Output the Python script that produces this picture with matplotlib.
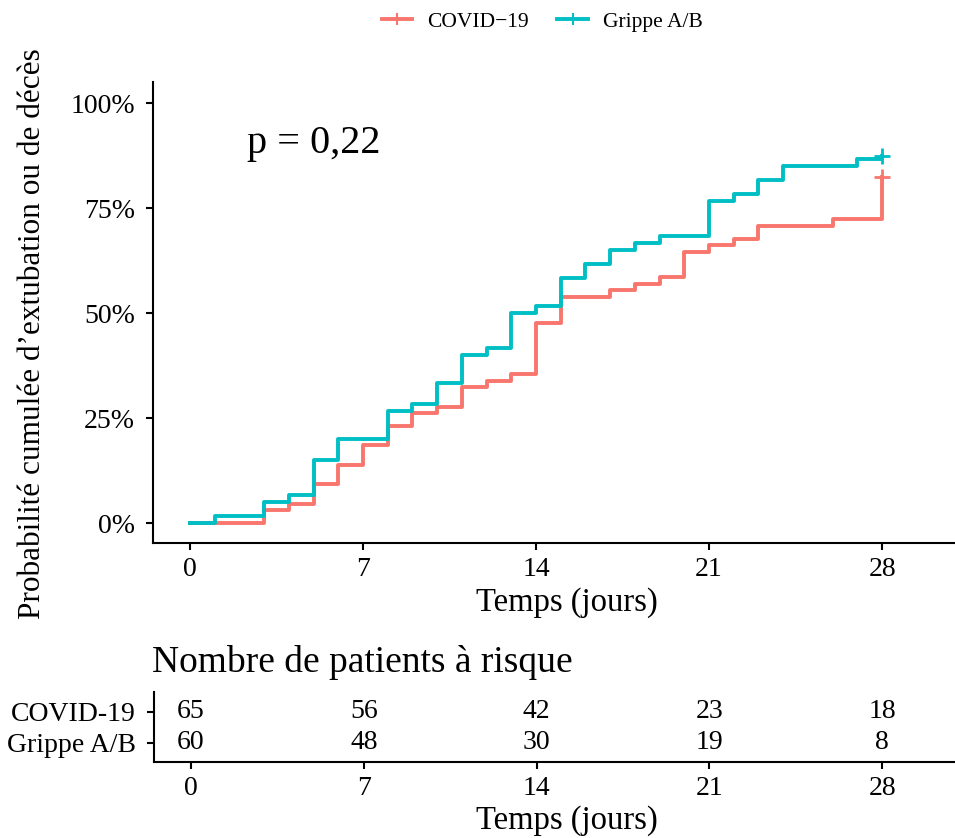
import matplotlib
matplotlib.use("Agg")
import matplotlib.pyplot as plt
from matplotlib.lines import Line2D

plt.rcParams['font.family'] = ['Liberation Serif', 'DejaVu Serif']

# ---- data ----
covid_t = [0, 3, 4, 5, 6, 7, 8, 9, 10, 11, 12, 13, 14, 15, 17, 18, 19, 20, 21, 22, 23, 26, 28]
covid_p = [0, 3.1, 4.6, 9.2, 13.8, 18.5, 23.1, 26.2, 27.7, 32.3, 33.8, 35.4, 47.7, 53.8,
           55.4, 56.9, 58.5, 64.6, 66.2, 67.7, 70.8, 72.3, 82.5]
grippe_t = [0, 1, 3, 4, 5, 6, 8, 9, 10, 11, 12, 13, 14, 15, 16, 17, 18, 19, 21, 22, 23, 24, 27, 28]
grippe_p = [0, 1.7, 5.0, 6.7, 15.0, 20.0, 26.7, 28.3, 33.3, 40.0, 41.7, 50.0, 51.7, 58.3,
            61.7, 65.0, 66.7, 68.3, 76.7, 78.3, 81.7, 85.0, 86.7, 87.5]
groups = ["COVID−19", "Grippe A/B"]
table_groups = ["COVID-19", "Grippe A/B"]
risk_times = [0, 7, 14, 21, 28]
risk_covid = [65, 56, 42, 23, 18]
risk_grippe = [60, 48, 30, 19, 8]
y_ticks = [0, 25, 50, 75, 100]
y_ticklabels = ["0%", "25%", "50%", "75%", "100%"]
x_ticks = [0, 7, 14, 21, 28]

RED = "#F8766D"
TEAL = "#00BFC4"

W, H = 955, 838
fig = plt.figure(figsize=(W / 100, H / 100), dpi=100)

def frac(l, t, r, b):
    return [l / W, 1 - b / H, (r - l) / W, (b - t) / H]

TICK_FS = 20

# ---- main plot ----
ax = fig.add_axes(frac(153, 82, 955, 543))
ax.step(covid_t, covid_p, where='post', color=RED, lw=2.8)
ax.step(grippe_t, grippe_p, where='post', color=TEAL, lw=2.8)
ax.plot([covid_t[-1]], [covid_p[-1]], marker='+', ms=12, mew=2, color=RED, ls='none')
ax.plot([grippe_t[-1]], [grippe_p[-1]], marker='+', ms=12, mew=2, color=TEAL, ls='none')

ax.set_xlim(-1.497, 30.95)
ax.set_ylim(-4.76, 105.0)
ax.set_xticks(x_ticks)
ax.set_yticks(y_ticks)
ax.set_yticklabels(y_ticklabels)
for s in ['top', 'right']:
    ax.spines[s].set_visible(False)
for s in ['left', 'bottom']:
    ax.spines[s].set_linewidth(1.5)
    ax.spines[s].set_color('black')
ax.tick_params(axis='both', direction='out', length=5, width=1.5, labelsize=TICK_FS, colors='black')
ax.tick_params(axis='y', pad=8)
ax.tick_params(axis='x', pad=5)
ax.set_xlabel("Temps (jours)", fontsize=23.5)
ax.xaxis.set_label_coords((567 - 153) / (955 - 153), -0.095)
ax.set_ylabel("Probabilité cumulée d’extubation ou de décès", fontsize=22.5)
ax.yaxis.set_label_coords(-0.132, 0.455)
fig.text(247 / W, 1 - 143 / H, "p = 0,22", fontsize=29, va='center', ha='left')

handles = [Line2D([], [], color=RED, lw=2.8, marker='+', ms=9, mew=1.5),
           Line2D([], [], color=TEAL, lw=2.8, marker='+', ms=9, mew=1.5)]
fig.legend(handles, groups, loc='center', bbox_to_anchor=(542 / W, 1 - 22 / H), ncol=2,
           frameon=False, fontsize=15.5, handlelength=1.4, columnspacing=1.35, handletextpad=0.7)

# ---- risk table ----
rt = fig.add_axes(frac(154, 692, 955, 762))
rt.set_xlim(-1.497, 30.95)
rt.set_ylim(0.387, 2.645)
for t, n in zip(risk_times, risk_covid):
    rt.text(t, 2, str(n), ha='center', va='center', fontsize=TICK_FS)
for t, n in zip(risk_times, risk_grippe):
    rt.text(t, 1, str(n), ha='center', va='center', fontsize=TICK_FS)
rt.set_yticks([2, 1])
rt.set_yticklabels(table_groups)
rt.set_xticks(x_ticks)
for s in ['top', 'right']:
    rt.spines[s].set_visible(False)
for s in ['left', 'bottom']:
    rt.spines[s].set_linewidth(1.5)
    rt.spines[s].set_color('black')
rt.tick_params(axis='both', direction='out', length=5, width=1.5, labelsize=TICK_FS, colors='black')
rt.tick_params(axis='y', pad=8)
rt.tick_params(axis='x', pad=5)
rt.set_xlabel("Temps (jours)", fontsize=23.5)
rt.xaxis.set_label_coords((567 - 154) / (955 - 154), -0.62)
fig.text(152 / W, 1 - 662 / H, "Nombre de patients à risque", fontsize=27, ha='left', va='center')

fig.savefig("out.png", dpi=100)
